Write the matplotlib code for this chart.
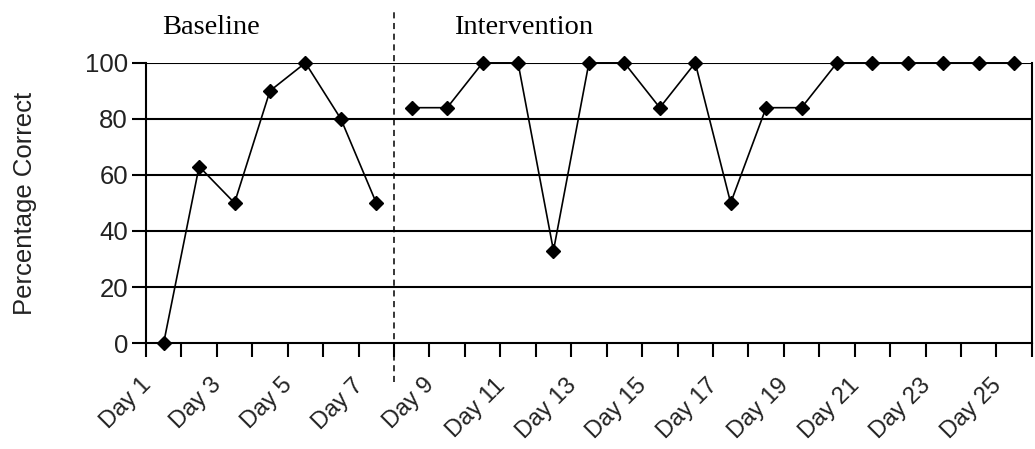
import matplotlib
matplotlib.use("Agg")
import matplotlib.pyplot as plt
import matplotlib.transforms as mtransforms
import numpy as np

# data
days = list(range(1, 26))
baseline_days = [1, 2, 3, 4, 5, 6, 7]
baseline_pct = [0, 63, 50, 90, 100, 80, 50]
intervention_days = list(range(8, 26))
intervention_pct = [84, 84, 100, 100, 33, 100, 100, 84, 100, 50,
                    84, 84, 100, 100, 100, 100, 100, 100]
label_days = list(range(1, 26, 2))
y_ticks = [0, 20, 40, 60, 80, 100]
phase_change = 7.5

plt.rcParams["font.family"] = ["Liberation Sans", "DejaVu Sans"]

fig = plt.figure(figsize=(10.35, 4.49), dpi=100)
ax = fig.add_axes([0.141, 0.236, 0.856, 0.624])

# gridlines
for v in y_ticks[1:]:
    ax.axhline(v, color="black", lw=1.5, zorder=1)

line_kw = dict(color="black", lw=1.2, marker="D", markersize=7.5, zorder=3, clip_on=False)
ax.plot(baseline_days, baseline_pct, **line_kw)
ax.plot(intervention_days, intervention_pct, **line_kw)

# phase change line
ax.plot([phase_change, phase_change], [-14, 118], color="black", lw=1.1,
        ls=(0, (4, 3)), clip_on=False, zorder=2)

ax.text(2.33, 112.5, "Baseline", family="Liberation Serif", fontsize=20.5,
        ha="center", va="center")
ax.text(11.17, 112.5, "Intervention", family="Liberation Serif", fontsize=20.5,
        ha="center", va="center")

ax.set_xlim(0.5, 25.5)
ax.set_ylim(0, 100)

ax.set_yticks(y_ticks)
ax.set_yticklabels([str(v) for v in y_ticks], fontsize=18.5, color="#222")
ax.tick_params(axis="y", length=10, width=1.5, pad=3)

# boundary ticks (category style) + labels at odd days
ax.set_xticks(np.arange(0.5, 26, 1), minor=True)
ax.set_xticks(label_days)
ax.set_xticklabels([f"Day {d}" for d in label_days], fontsize=17,
                   rotation=45, ha="right", rotation_mode="anchor", color="#222")
ax.tick_params(axis="x", which="major", length=0, pad=16)
ax.tick_params(axis="x", which="minor", length=10, width=1.5)
shift = mtransforms.ScaledTranslation(-24 / 100, -9 / 100, fig.dpi_scale_trans)
for lab in ax.get_xticklabels():
    lab.set_transform(lab.get_transform() + shift)

for s in ["left", "right", "bottom"]:
    ax.spines[s].set_linewidth(1.5)
ax.spines["top"].set_visible(False)

fig.text(25 / 1035, 0.547, "Percentage Correct", rotation=90, fontsize=18.5,
         color="#222", ha="center", va="center")

fig.savefig("out.png", dpi=100)
